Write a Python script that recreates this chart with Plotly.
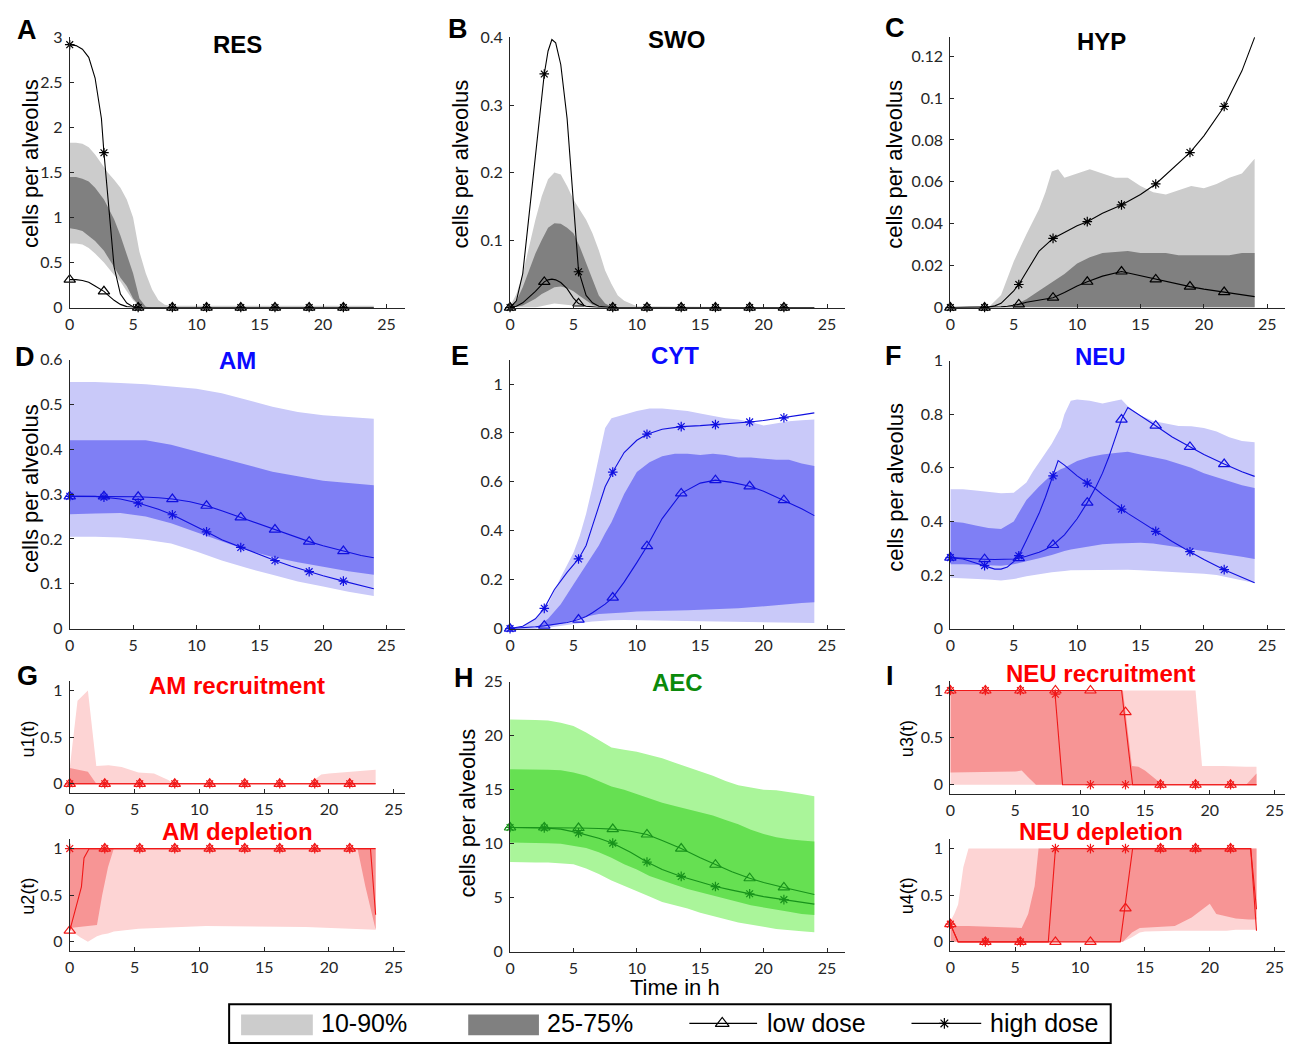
import plotly.graph_objects as go

# ---------------------------------------------------------------- data
MT = [0, 2.7, 5.4, 8.1, 10.8, 13.5, 16.2, 18.9, 21.6]   # marker times (h)
XTICKS = [0, 5, 10, 15, 20, 25]

# A  RES
A_t = [0, 0.5, 1, 1.5, 2, 2.5, 2.7, 3, 3.5, 4, 4.5, 5, 5.5, 6, 24]
A_hi = [2.92, 2.91, 2.87, 2.78, 2.55, 2.1, 1.72, 1.25, 0.45, 0.15, 0.05, 0.01, 0, 0, 0]
A_lo = [0.31, 0.31, 0.30, 0.28, 0.24, 0.2, 0.18, 0.14, 0.08, 0.035, 0.01, 0.003, 0, 0, 0]
A_bt = [0, 0.5, 1, 1.5, 2, 2.7, 3, 3.5, 4, 4.5, 5, 5.5, 6, 6.5, 7, 7.5, 8, 24]
A_p90 = [1.83, 1.83, 1.82, 1.78, 1.7, 1.55, 1.5, 1.42, 1.33, 1.2, 1.0, 0.62, 0.38, 0.2, 0.08, 0.03, 0.02, 0.02]
A_p75 = [1.45, 1.45, 1.43, 1.4, 1.33, 1.2, 1.12, 0.98, 0.8, 0.58, 0.38, 0.1, 0.01, 0, 0, 0, 0, 0]
A_p25 = [0.88, 0.87, 0.85, 0.8, 0.74, 0.63, 0.56, 0.45, 0.33, 0.24, 0.1, 0.02, 0, 0, 0, 0, 0, 0]
A_p10 = [0.71, 0.71, 0.7, 0.66, 0.6, 0.5, 0.45, 0.36, 0.29, 0.18, 0.08, 0.02, 0, 0, 0, 0, 0, 0]
A_mhi = [2.92, 1.72, 0, 0, 0, 0, 0, 0, 0]
A_mlo = [0.31, 0.18, 0, 0, 0, 0, 0, 0, 0]

# B  SWO
B_t = [0, 0.5, 1, 1.5, 2, 2.5, 2.7, 3, 3.3, 3.6, 4, 4.5, 5, 5.4, 6, 6.5, 7, 8, 24]
B_hi = [0, 0.01, 0.05, 0.14, 0.23, 0.32, 0.346, 0.38, 0.397, 0.392, 0.36, 0.28, 0.16, 0.055, 0.018, 0.007, 0.002, 0, 0]
B_lo = [0, 0.002, 0.007, 0.015, 0.024, 0.034, 0.038, 0.041, 0.042, 0.041, 0.037, 0.028, 0.014, 0.006, 0.002, 0.001, 0, 0, 0]
B_bt = [0, 0.5, 1, 1.5, 2, 2.5, 3, 3.5, 4, 4.5, 5, 5.5, 6, 6.5, 7, 7.5, 8, 8.5, 9, 10, 24]
B_p90 = [0.002, 0.02, 0.05, 0.09, 0.13, 0.165, 0.19, 0.2, 0.197, 0.18, 0.16, 0.145, 0.13, 0.11, 0.085, 0.055, 0.035, 0.018, 0.01, 0.002, 0]
B_p75 = [0.001, 0.01, 0.03, 0.055, 0.08, 0.1, 0.118, 0.125, 0.124, 0.118, 0.11, 0.09, 0.065, 0.04, 0.018, 0.006, 0.001, 0, 0, 0, 0]
B_p25 = [0, 0.001, 0.003, 0.008, 0.013, 0.02, 0.025, 0.03, 0.031, 0.029, 0.024, 0.017, 0.01, 0.004, 0.001, 0, 0, 0, 0, 0, 0]
B_p10 = [0, 0, 0, 0, 0, 0.002, 0.004, 0.006, 0.006, 0.005, 0.003, 0.002, 0.001, 0, 0, 0, 0, 0, 0, 0, 0]
B_mhi = [0, 0.346, 0.053, 0, 0, 0, 0, 0, 0]
B_mlo = [0, 0.038, 0.006, 0, 0, 0, 0, 0, 0]

# C  HYP
C_t = [0, 2.7, 3, 3.5, 4, 4.5, 5, 5.4, 6, 7, 8.1, 9, 10, 10.8, 12, 13.5, 15, 16.2, 17.5, 18.9, 20, 21.6, 23, 24]
C_hi = [0, 0, 0.0002, 0.0008, 0.002, 0.005, 0.008, 0.011, 0.017, 0.027, 0.033, 0.036, 0.039, 0.041, 0.045, 0.049, 0.054, 0.059, 0.066, 0.074, 0.082, 0.096, 0.113, 0.129]
C_lo = [0, 0, 0, 0.0001, 0.0003, 0.0006, 0.001, 0.0015, 0.0025, 0.0036, 0.0047, 0.0072, 0.0103, 0.0123, 0.015, 0.0172, 0.0152, 0.0134, 0.0116, 0.0100, 0.0088, 0.0074, 0.006, 0.0052]
C_bt = [0, 3, 4, 5, 6, 7, 7.5, 8, 8.5, 9, 10, 11, 12, 13, 14, 15, 16, 17, 18, 19, 20, 21, 22, 23, 24]
C_p90 = [0, 0, 0.006, 0.022, 0.035, 0.047, 0.055, 0.065, 0.066, 0.062, 0.064, 0.066, 0.064, 0.062, 0.062, 0.058, 0.055, 0.054, 0.056, 0.058, 0.057, 0.059, 0.062, 0.064, 0.071]
C_p75 = [0, 0, 0, 0.001, 0.004, 0.008, 0.010, 0.012, 0.014, 0.016, 0.021, 0.024, 0.026, 0.0265, 0.027, 0.026, 0.026, 0.026, 0.025, 0.025, 0.025, 0.025, 0.025, 0.026, 0.026]
C_p25 = [0, 0, 0, 0, 0, 0, 0, 0, 0, 0, 0, 0, 0, 0, 0, 0, 0, 0, 0, 0, 0, 0, 0, 0, 0]
C_p10 = [0, 0, 0, 0, 0, 0, 0, 0, 0, 0, 0, 0, 0, 0, 0, 0, 0, 0, 0, 0, 0, 0, 0, 0, 0]
C_mhi = [0, 0, 0.011, 0.033, 0.041, 0.049, 0.059, 0.074, 0.096]
C_mlo = [0, 0, 0.0015, 0.0047, 0.0123, 0.0172, 0.0134, 0.0100, 0.0074]

# D  AM
D_t = [0, 2, 2.7, 4, 5.4, 7, 8.1, 9.5, 10.8, 12, 13.5, 15, 16.2, 17.5, 18.9, 20, 21.6, 23, 24]
D_lo = [0.295, 0.295, 0.295, 0.295, 0.294, 0.292, 0.289, 0.283, 0.274, 0.263, 0.248, 0.233, 0.221, 0.208, 0.194, 0.185, 0.173, 0.163, 0.158]
D_hi = [0.295, 0.295, 0.293, 0.289, 0.28, 0.266, 0.254, 0.235, 0.216, 0.198, 0.181, 0.164, 0.152, 0.139, 0.127, 0.118, 0.106, 0.096, 0.089]
D_bt = [0, 2, 4, 6, 8, 10, 12, 14, 16, 18, 20, 22, 24]
D_p90 = [0.55, 0.55, 0.548, 0.545, 0.54, 0.535, 0.525, 0.51, 0.495, 0.483, 0.476, 0.472, 0.468]
D_p75 = [0.42, 0.42, 0.42, 0.42, 0.41, 0.395, 0.38, 0.365, 0.35, 0.34, 0.33, 0.325, 0.32]
D_p25 = [0.255, 0.257, 0.258, 0.25, 0.235, 0.215, 0.195, 0.175, 0.16, 0.148, 0.138, 0.128, 0.12]
D_p10 = [0.205, 0.205, 0.203, 0.198, 0.19, 0.172, 0.152, 0.135, 0.12, 0.105, 0.094, 0.082, 0.073]
D_mhi = [0.295, 0.293, 0.28, 0.254, 0.216, 0.181, 0.152, 0.127, 0.106]
D_mlo = [0.295, 0.295, 0.294, 0.289, 0.274, 0.248, 0.221, 0.194, 0.173]

# E  CYT
E_t = [0, 1, 2, 2.7, 3.5, 4.5, 5.4, 6, 6.5, 7, 7.5, 8.1, 9, 10, 10.8, 12, 13.5, 15, 16.2, 17.5, 18.9, 20, 21.6, 23, 24]
E_hi = [0, 0.01, 0.04, 0.083, 0.16, 0.23, 0.285, 0.34, 0.42, 0.5, 0.58, 0.64, 0.72, 0.77, 0.795, 0.815, 0.826, 0.83, 0.834, 0.839, 0.845, 0.851, 0.862, 0.874, 0.882]
E_lo = [0, 0.003, 0.008, 0.012, 0.017, 0.025, 0.037, 0.05, 0.065, 0.082, 0.1, 0.127, 0.19, 0.27, 0.337, 0.45, 0.553, 0.595, 0.607, 0.598, 0.582, 0.562, 0.525, 0.49, 0.462]
E_bt = [0, 1, 2, 3, 4, 5, 5.5, 6, 6.5, 7, 7.5, 8, 9, 10, 11, 12, 13, 14, 15, 16, 17, 18, 19, 20, 21, 22, 23, 24]
E_p90 = [0, 0.01, 0.04, 0.1, 0.21, 0.31, 0.38, 0.47, 0.58, 0.7, 0.82, 0.86, 0.875, 0.89, 0.9, 0.9, 0.895, 0.89, 0.88, 0.87, 0.86, 0.855, 0.845, 0.83, 0.84, 0.848, 0.852, 0.855]
E_p75 = [0, 0, 0.003, 0.04, 0.1, 0.18, 0.22, 0.26, 0.3, 0.34, 0.39, 0.435, 0.55, 0.64, 0.68, 0.705, 0.715, 0.715, 0.71, 0.715, 0.71, 0.7, 0.7, 0.695, 0.69, 0.69, 0.675, 0.665]
E_p25 = [0, 0, 0.002, 0.01, 0.02, 0.035, 0.042, 0.05, 0.055, 0.06, 0.062, 0.063, 0.066, 0.07, 0.072, 0.073, 0.074, 0.075, 0.077, 0.078, 0.08, 0.083, 0.087, 0.092, 0.097, 0.1, 0.105, 0.108]
E_p10 = [0, 0, 0, 0.004, 0.01, 0.018, 0.022, 0.026, 0.029, 0.031, 0.033, 0.034, 0.035, 0.036, 0.036, 0.035, 0.034, 0.033, 0.032, 0.031, 0.03, 0.029, 0.028, 0.027, 0.026, 0.025, 0.024, 0.023]
E_mhi = [0, 0.083, 0.285, 0.64, 0.795, 0.826, 0.834, 0.845, 0.862]
E_mlo = [0, 0.012, 0.037, 0.127, 0.337, 0.553, 0.607, 0.582, 0.525]

# F  NEU
F_t = [0, 1, 2, 2.7, 3.5, 4, 4.5, 5, 5.4, 6, 7, 7.5, 8.1, 8.5, 9, 10, 10.8, 11.5, 12, 12.5, 13, 13.5, 14, 15, 16.2, 17.5, 18.9, 20, 21.6, 23, 24]
F_hi = [0.265, 0.26, 0.245, 0.235, 0.222, 0.222, 0.23, 0.25, 0.272, 0.33, 0.43, 0.49, 0.57, 0.627, 0.61, 0.57, 0.543, 0.52, 0.5, 0.482, 0.464, 0.446, 0.43, 0.4, 0.363, 0.325, 0.287, 0.258, 0.22, 0.19, 0.171]
F_lo = [0.265, 0.262, 0.26, 0.259, 0.258, 0.258, 0.259, 0.26, 0.263, 0.27, 0.285, 0.295, 0.312, 0.33, 0.35, 0.41, 0.47, 0.53, 0.58, 0.64, 0.71, 0.78, 0.825, 0.795, 0.757, 0.715, 0.678, 0.65, 0.614, 0.585, 0.568]
F_bt = [0, 1, 2, 3, 4, 5, 6, 6.5, 7, 8, 8.7, 9, 9.5, 10, 11, 12, 13, 13.5, 14, 15, 16, 17, 18, 19, 20, 21, 22, 23, 24]
F_p90 = [0.52, 0.52, 0.515, 0.51, 0.505, 0.507, 0.545, 0.585, 0.62, 0.69, 0.75, 0.8, 0.85, 0.855, 0.85, 0.84, 0.85, 0.855, 0.83, 0.795, 0.775, 0.765, 0.756, 0.755, 0.748, 0.735, 0.714, 0.7, 0.695]
F_p75 = [0.4, 0.395, 0.385, 0.375, 0.372, 0.4, 0.48, 0.505, 0.53, 0.575, 0.595, 0.6, 0.612, 0.625, 0.64, 0.65, 0.655, 0.658, 0.66, 0.65, 0.64, 0.63, 0.615, 0.6, 0.58, 0.565, 0.548, 0.535, 0.525]
F_p25 = [0.24, 0.24, 0.24, 0.237, 0.235, 0.24, 0.25, 0.257, 0.263, 0.275, 0.285, 0.29, 0.295, 0.3, 0.308, 0.315, 0.318, 0.32, 0.32, 0.32, 0.318, 0.312, 0.305, 0.298, 0.29, 0.283, 0.275, 0.268, 0.26]
F_p10 = [0.19, 0.188, 0.185, 0.183, 0.18, 0.185, 0.195, 0.2, 0.203, 0.21, 0.214, 0.215, 0.218, 0.22, 0.22, 0.22, 0.22, 0.22, 0.22, 0.218, 0.215, 0.213, 0.21, 0.208, 0.205, 0.2, 0.19, 0.18, 0.17]
F_mhi = [0.265, 0.235, 0.272, 0.57, 0.543, 0.446, 0.363, 0.287, 0.22]
F_mlo = [0.265, 0.259, 0.263, 0.312, 0.47, 0.78, 0.757, 0.678, 0.614]

# H  AEC
H_t = [0, 2.7, 4, 5.4, 7, 8.1, 9.5, 10.8, 12, 13.5, 15, 16.2, 17.5, 18.9, 20, 21.6, 23, 24]
H_lo = [11.5, 11.5, 11.5, 11.45, 11.4, 11.35, 11.15, 10.85, 10.3, 9.55, 8.7, 8.05, 7.4, 6.8, 6.4, 5.95, 5.55, 5.3]
H_hi = [11.5, 11.45, 11.35, 11.0, 10.5, 10.05, 9.2, 8.3, 7.6, 6.97, 6.45, 6.03, 5.7, 5.36, 5.1, 4.82, 4.57, 4.4]
H_bt = [0, 1, 2, 3, 4, 5, 6, 7, 8, 9, 10, 11, 12, 13, 14, 15, 16, 17, 18, 19, 20, 21, 22, 23, 24]
H_p90 = [21.5, 21.5, 21.45, 21.4, 21.2, 20.9, 20.3, 19.6, 18.9, 18.7, 18.5, 18.2, 17.9, 17.5, 17.1, 16.7, 16.3, 15.8, 15.4, 15.2, 15.0, 14.95, 14.8, 14.6, 14.4]
H_p75 = [16.9, 16.9, 16.9, 16.85, 16.8, 16.6, 16.3, 15.8, 15.3, 15.0, 14.6, 14.2, 13.8, 13.5, 13.2, 12.9, 12.6, 12.2, 11.8, 11.3, 10.9, 10.6, 10.4, 10.3, 10.2]
H_p25 = [10.1, 10.1, 10.05, 10.05, 10.0, 9.8, 9.6, 9.2, 8.7, 8.1, 7.6, 7.0, 6.6, 6.2, 5.8, 5.5, 5.2, 4.9, 4.6, 4.3, 4.1, 3.9, 3.7, 3.5, 3.4]
H_p10 = [8.3, 8.3, 8.25, 8.25, 8.2, 8.1, 7.7, 7.2, 6.6, 6.1, 5.6, 5.1, 4.6, 4.3, 4.0, 3.6, 3.3, 3.0, 2.7, 2.5, 2.3, 2.1, 2.0, 1.9, 1.8]
H_mhi = [11.5, 11.45, 11.0, 10.05, 8.3, 6.97, 6.03, 5.36, 4.82]
H_mlo = [11.5, 11.5, 11.45, 11.35, 10.85, 9.55, 8.05, 6.8, 5.95]

# G top  u1 (AM recruitment)
G1_tlo = [0, 23.6]
G1_lo = [0, 0]
G1_thi = [0, 23.6]
G1_hi = [0, 0]
G1_bt = [0, 0.6, 1.4, 2.05, 3, 4, 5.3, 6.5, 7.6, 8, 18.5, 19.4, 20, 23.6]
G1_p90 = [0.17, 0.89, 1.0, 0.19, 0.2, 0.18, 0.12, 0.11, 0.04, 0, 0, 0.1, 0.11, 0.15]
G1_p75 = [0.17, 0.15, 0.13, 0, 0, 0, 0, 0, 0, 0, 0, 0, 0, 0]
G1_p25 = [0, 0, 0, 0, 0, 0, 0, 0, 0, 0, 0, 0, 0, 0]
G1_p10 = [0, 0, 0, 0, 0, 0, 0, 0, 0, 0, 0, 0, 0, 0]
G1_mhi = [0, 0, 0, 0, 0, 0, 0, 0, 0]
G1_mlo = [0, 0, 0, 0, 0, 0, 0, 0, 0]

# G bottom  u2 (AM depletion)
G2_tlo = [0, 0.4, 0.9, 1.1, 1.5, 23.2, 23.6]
G2_lo = [0.12, 0.34, 0.59, 0.9, 1, 1, 0.29]
G2_thi = [0, 23.6]
G2_hi = [1, 1]
G2_bt = [0, 0.8, 1.4, 2.1, 2.5, 2.95, 3.4, 5.3, 10.5, 18.2, 22.2, 22.8, 23.6]
G2_p90 = [1, 1, 1, 1, 1, 1, 1, 1, 1, 1, 1, 1, 1]
G2_p75 = [1, 1, 1, 1, 1, 1, 1, 1, 1, 1, 1, 1, 1]
G2_p25 = [0.15, 0.16, 0.17, 0.18, 0.5, 0.8, 1, 1, 1, 1, 1, 0.6, 0.13]
G2_p10 = [0.13, 0.05, 0.0, 0.06, 0.08, 0.09, 0.11, 0.14, 0.17, 0.16, 0.14, 0.135, 0.13]
G2_mhi = [1, 1, 1, 1, 1, 1, 1, 1, 1]
G2_mlo = [0.12, 1, 1, 1, 1, 1, 1, 1, 1]

# I top  u3 (NEU recruitment)
I1_tlo = [0, 13.2, 14.05, 23.6]
I1_lo = [1, 1, 0, 0]
I1_thi = [0, 8.05, 8.65, 23.6]
I1_hi = [1, 1, 0, 0]
I1_bt = [0, 5, 5.5, 6, 6.6, 13.3, 14.0, 14.5, 15, 15.5, 16, 16.5, 18.9, 19.4, 21, 22.8, 23.6]
I1_p90 = [1, 1, 1, 1, 1, 1, 1, 1, 1, 1, 1, 1, 1, 0.2, 0.2, 0.19, 0.19]
I1_p75 = [1, 1, 1, 1, 1, 1, 0.2, 0.19, 0.15, 0.1, 0.04, 0, 0, 0, 0, 0, 0.12]
I1_p25 = [0.13, 0.14, 0.15, 0.08, 0, 0, 0, 0, 0, 0, 0, 0, 0, 0, 0, 0, 0]
I1_p10 = [0, 0, 0, 0, 0, 0, 0, 0, 0, 0, 0, 0, 0, 0, 0, 0, 0]
I1_mhi = [1, 1, 1, 0.96, 0, 0, 0, 0, 0]
I1_mlo = [1, 1, 1, 1, 1, 0.77, 0, 0, 0]

# I bottom  u4 (NEU depletion)
I2_tlo = [0, 0.6, 13.1, 14.05, 23.15, 23.6]
I2_lo = [0.19, 0, 0, 1, 1, 0.12]
I2_thi = [0, 0.6, 7.55, 8.1, 23.15, 23.6]
I2_hi = [0.19, 0, 0, 1, 1, 0.35]
I2_bt = [0, 0.3, 0.6, 1.0, 1.4, 5.5, 6.0, 6.5, 6.8, 13.3, 14.0, 14.6, 15, 17.3, 18.6, 20.0, 20.5, 21.3, 22, 23, 23.6]
I2_p90 = [0.22, 0.3, 0.4, 0.8, 1, 1, 1, 1, 1, 1, 1, 1, 1, 1, 1, 1, 1, 1, 1, 1, 1]
I2_p75 = [0.17, 0.17, 0.17, 0.17, 0.17, 0.15, 0.3, 0.6, 1, 1, 1, 1, 1, 1, 1, 1, 1, 1, 1, 1, 1]
I2_p25 = [0, 0, 0, 0, 0, 0, 0, 0, 0, 0, 0.1, 0.15, 0.15, 0.17, 0.26, 0.41, 0.3, 0.27, 0.25, 0.24, 0.24]
I2_p10 = [0, 0, 0, 0, 0, 0, 0, 0, 0, 0, 0.05, 0.1, 0.11, 0.12, 0.12, 0.12, 0.12, 0.12, 0.13, 0.13, 0.13]
I2_mhi = [0.19, 0, 0, 1, 1, 1, 1, 1, 1]
I2_mlo = [0.19, 0, 0, 0, 0, 0.36, 1, 1, 1]

# ---------------------------------------------------------------- styles / layout
W, H = 1298, 1053
TICKCOL = '#262626'

PAL = {
    'grey':  dict(light='#cccccc', dark='#808080', line='#000000', title='#000000'),
    'blue':  dict(light='#c9c9f9', dark='#7f7ff5', line='#1010e0', title='#0a0aff'),
    'green': dict(light='#aaf59a', dark='#66e052', line='#17921b', title='#0b8a0b'),
    'red':   dict(light='#fdd4d4', dark='#f79595', line='#f01818', title='#ff0000'),
}

# panel boxes in pixels: left, right, top, bottom, xmax, yrange, yticks
BOX = {
    1:  (65, 402, 28, 303, 26.5, [0, 3], [0, 0.5, 1, 1.5, 2, 2.5, 3]),
    2:  (507, 843, 28, 303, 26.4, [0, 0.4], [0, 0.1, 0.2, 0.3, 0.4]),
    3:  (949, 1285, 27, 303, 26.4, [0, 0.1294], [0, 0.02, 0.04, 0.06, 0.08, 0.1, 0.12]),
    4:  (65, 402, 356, 630, 26.5, [0, 0.6], [0, 0.1, 0.2, 0.3, 0.4, 0.5, 0.6]),
    5:  (507, 843, 356, 630, 26.4, [0, 1.1], [0, 0.2, 0.4, 0.6, 0.8, 1]),
    6:  (949, 1285, 357, 630, 26.4, [0, 1], [0, 0.2, 0.4, 0.6, 0.8, 1]),
    7:  (65, 402, 683.5, 797.5, 25.9, [-0.1, 1.1], [0, 0.5, 1]),
    8:  (65, 402, 844.5, 958.5, 25.9, [-0.1, 1.1], [0, 0.5, 1]),
    9:  (507, 843, 684, 959, 26.4, [0, 25], [0, 5, 10, 15, 20, 25]),
    10: (949, 1285, 683.4, 798.6, 25.8, [-0.1, 1.1], [0, 0.5, 1]),
    11: (949, 1285, 844.5, 958.5, 25.8, [-0.1, 1.1], [0, 0.5, 1]),
}


def names(i):
    s = '' if i == 1 else str(i)
    return 'x' + s, 'y' + s, 'xaxis' + s, 'yaxis' + s


fig = go.Figure()


def add_band(i, t, lo, hi, color):
    xa, ya, _, _ = names(i)
    fig.add_trace(go.Scatter(x=list(t) + list(t)[::-1], y=list(hi) + list(lo)[::-1],
                             mode='lines', fill='toself', fillcolor=color,
                             line=dict(width=0, color=color), xaxis=xa, yaxis=ya,
                             hoverinfo='skip', showlegend=False))


def add_line(i, t, y, color):
    xa, ya, _, _ = names(i)
    fig.add_trace(go.Scatter(x=t, y=y, mode='lines', line=dict(color=color, width=1.1),
                             xaxis=xa, yaxis=ya, hoverinfo='skip', showlegend=False,
                             cliponaxis=False))


def add_marks(i, y, symbol, color, size):
    xa, ya, _, _ = names(i)
    fig.add_trace(go.Scatter(x=MT, y=y, mode='markers',
                             marker=dict(symbol=symbol, size=size, color=color,
                                         line=dict(width=1.2, color=color)),
                             xaxis=xa, yaxis=ya, hoverinfo='skip', showlegend=False,
                             cliponaxis=False))


def panel(i, pal, bt, p10, p25, p75, p90, tlo, lo, thi, hi, mlo, mhi):
    c = PAL[pal]
    add_band(i, bt, p10, p90, c['light'])
    add_band(i, bt, p25, p75, c['dark'])
    add_line(i, tlo, lo, c['line'])
    add_line(i, thi, hi, c['line'])
    add_marks(i, mhi, 'asterisk-open', c['line'], 8)
    add_marks(i, mlo, 'triangle-up-open', c['line'], 10)


panel(1, 'grey', A_bt, A_p10, A_p25, A_p75, A_p90, A_t, A_lo, A_t, A_hi, A_mlo, A_mhi)
panel(2, 'grey', B_bt, B_p10, B_p25, B_p75, B_p90, B_t, B_lo, B_t, B_hi, B_mlo, B_mhi)
panel(3, 'grey', C_bt, C_p10, C_p25, C_p75, C_p90, C_t, C_lo, C_t, C_hi, C_mlo, C_mhi)
panel(4, 'blue', D_bt, D_p10, D_p25, D_p75, D_p90, D_t, D_lo, D_t, D_hi, D_mlo, D_mhi)
panel(5, 'blue', E_bt, E_p10, E_p25, E_p75, E_p90, E_t, E_lo, E_t, E_hi, E_mlo, E_mhi)
panel(6, 'blue', F_bt, F_p10, F_p25, F_p75, F_p90, F_t, F_lo, F_t, F_hi, F_mlo, F_mhi)
panel(7, 'red', G1_bt, G1_p10, G1_p25, G1_p75, G1_p90, G1_tlo, G1_lo, G1_thi, G1_hi, G1_mlo, G1_mhi)
panel(8, 'red', G2_bt, G2_p10, G2_p25, G2_p75, G2_p90, G2_tlo, G2_lo, G2_thi, G2_hi, G2_mlo, G2_mhi)
panel(9, 'green', H_bt, H_p10, H_p25, H_p75, H_p90, H_t, H_lo, H_t, H_hi, H_mlo, H_mhi)
panel(10, 'red', I1_bt, I1_p10, I1_p25, I1_p75, I1_p90, I1_tlo, I1_lo, I1_thi, I1_hi, I1_mlo, I1_mhi)
panel(11, 'red', I2_bt, I2_p10, I2_p25, I2_p75, I2_p90, I2_tlo, I2_lo, I2_thi, I2_hi, I2_mlo, I2_mhi)

layout = {}
tickfont = dict(family='Lato, Open Sans, sans-serif', size=16, color=TICKCOL)
for i, (l, r, t, b, xmax, yr, yt) in BOX.items():
    xa, ya, xk, yk = names(i)
    layout[xk] = dict(domain=[l / W, r / W], anchor=ya, range=[0, xmax], tickvals=XTICKS,
                      showline=True, linecolor=TICKCOL, linewidth=1, ticks='inside',
                      ticklen=4, tickcolor=TICKCOL, tickfont=tickfont, showgrid=False,
                      zeroline=False, fixedrange=True, ticklabelstandoff=2)
    layout[yk] = dict(domain=[1 - b / H, 1 - t / H], anchor=xa, range=yr, tickvals=yt,
                      showline=True, linecolor=TICKCOL, linewidth=1, ticks='inside',
                      ticklen=4, tickcolor=TICKCOL, tickfont=tickfont, showgrid=False,
                      zeroline=False, fixedrange=True, ticklabelstandoff=3)

# overlay axis in pixel units for the legend samples
layout['xaxis12'] = dict(domain=[0, 1], range=[0, W], visible=False, fixedrange=True, anchor='y12')
layout['yaxis12'] = dict(domain=[0, 1], range=[H, 0], visible=False, fixedrange=True, anchor='x12')
LEG_LOW = dict(x=[687, 755], y=[1032, 1032], mx=720)
LEG_HIGH = dict(x=[910, 980], y=[1032, 1032], mx=943)
for spec, sym, sz in ((LEG_LOW, 'triangle-up-open', 12), (LEG_HIGH, 'asterisk-open', 9)):
    fig.add_trace(go.Scatter(x=spec['x'], y=spec['y'], mode='lines', line=dict(color='black', width=1.2),
                             xaxis='x12', yaxis='y12', showlegend=False, hoverinfo='skip'))
    fig.add_trace(go.Scatter(x=[spec['mx']], y=[spec['y'][0]], mode='markers',
                             marker=dict(symbol=sym, size=sz, color='black', line=dict(width=1.2, color='black')),
                             xaxis='x12', yaxis='y12', showlegend=False, hoverinfo='skip'))


def ann(x, y, text, size, color='black', bold=False, family='Liberation Sans, Arial, sans-serif',
        angle=0, xanchor='center'):
    return dict(x=x / W, y=1 - y / H, xref='paper', yref='paper', showarrow=False,
                text=('<b>%s</b>' % text) if bold else text, textangle=angle,
                font=dict(family=family, size=size, color=color),
                xanchor=xanchor, yanchor='middle')


anns = []
for txt, x, y in (('A', 22, 20), ('B', 455, 19), ('C', 893, 18), ('D', 20, 353), ('E', 457, 352),
                  ('F', 892, 352), ('G', 23, 678), ('H', 461, 680), ('I', 888, 678)):
    anns.append(ann(x, y, txt, 27, bold=True))

for txt, x, y, pal in (('RES', 233, 35, 'grey'), ('SWO', 674, 30, 'grey'), ('HYP', 1101, 32, 'grey'),
                       ('AM', 233, 357, 'blue'), ('CYT', 673, 352, 'blue'), ('NEU', 1100, 353, 'blue'),
                       ('AM recruitment', 233, 688, 'red'), ('AM depletion', 233, 837, 'red'),
                       ('AEC', 675, 685, 'green'), ('NEU recruitment', 1100, 676, 'red'),
                       ('NEU depletion', 1100, 837, 'red')):
    anns.append(ann(x, y, txt, 24, color=PAL[pal]['title'], bold=True))

for txt, x, y, sz in (('cells per alveolus', 25, 156, 22), ('cells per alveolus', 457, 157, 22),
                      ('cells per alveolus', 893, 157, 22), ('cells per alveolus', 25, 487, 22),
                      ('cells per alveolus', 894, 486, 22), ('cells per alveolus', 464, 818, 22),
                      ('u1(t)', 23, 742, 18), ('u2(t)', 23, 902, 18),
                      ('u3(t)', 905, 742, 18), ('u4(t)', 905, 902, 18)):
    anns.append(ann(x, y, txt, sz, angle=-90))

anns.append(ann(673, 995, 'Time in h', 22))

LEGFONT = 'Liberation Sans, Arial, sans-serif'
for txt, x in (('10-90%', 315), ('25-75%', 542), ('low dose', 763), ('high dose', 987)):
    anns.append(ann(x, 1032, txt, 25, family=LEGFONT, xanchor='left'))

shapes = [
    dict(type='rect', xref='paper', yref='paper', x0=225 / W, x1=1110 / W, y0=1 - 1052 / H, y1=1 - 1012.5 / H,
         line=dict(color='black', width=2), fillcolor='white', layer='below'),
    dict(type='rect', xref='paper', yref='paper', x0=237 / W, x1=309 / W, y0=1 - 1044 / H, y1=1 - 1023 / H,
         line=dict(width=0), fillcolor=PAL['grey']['light']),
    dict(type='rect', xref='paper', yref='paper', x0=465 / W, x1=536 / W, y0=1 - 1044 / H, y1=1 - 1023 / H,
         line=dict(width=0), fillcolor=PAL['grey']['dark']),
]

fig.update_layout(**layout)
fig.update_layout(width=W, height=H, autosize=False, margin=dict(l=0, r=0, t=0, b=0, pad=0),
                  paper_bgcolor='white', plot_bgcolor='rgba(0,0,0,0)', showlegend=False,
                  annotations=anns, shapes=shapes)

fig.write_html("out.html", config={'displayModeBar': False, 'staticPlot': True},
               post_script="document.body.style.margin='0';document.body.style.overflow='hidden';")
